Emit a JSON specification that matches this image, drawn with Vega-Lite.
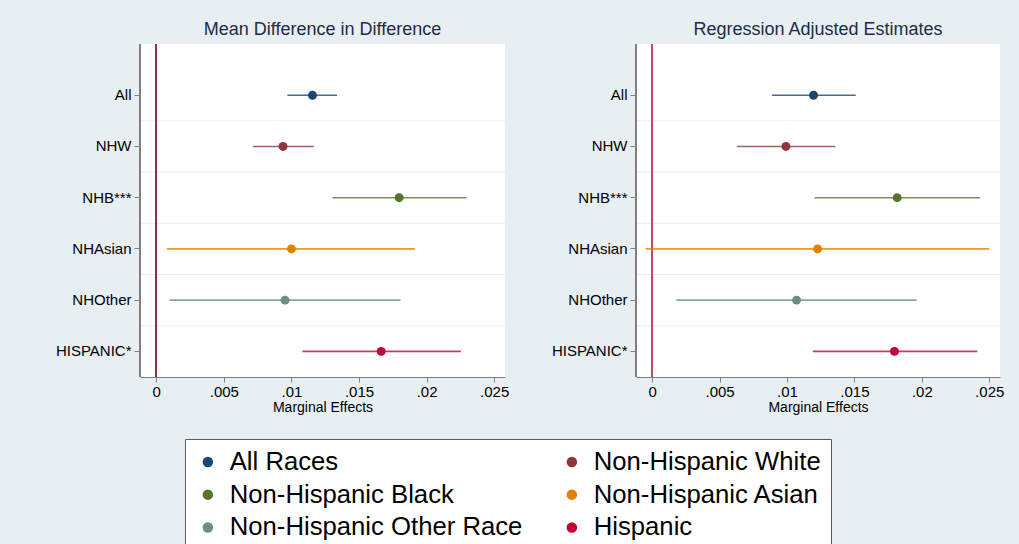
{
  "$schema": "https://vega.github.io/schema/vega-lite/v6.json",
  "background": "#E7EFF2",
  "padding": {"left": 55, "top": 21, "right": 16, "bottom": 0},
  "spacing": 42,
  "datasets": {
    "coef": [
      {"panel": "Mean Difference in Difference", "label": "All", "race": "All Races", "est": 0.01156, "lo": 0.0097, "hi": 0.01338},
      {"panel": "Mean Difference in Difference", "label": "NHW", "race": "Non-Hispanic White", "est": 0.00938, "lo": 0.00716, "hi": 0.01165},
      {"panel": "Mean Difference in Difference", "label": "NHB***", "race": "Non-Hispanic Black", "est": 0.01797, "lo": 0.01304, "hi": 0.02296},
      {"panel": "Mean Difference in Difference", "label": "NHAsian", "race": "Non-Hispanic Asian", "est": 0.0100, "lo": 0.00079, "hi": 0.01913},
      {"panel": "Mean Difference in Difference", "label": "NHOther", "race": "Non-Hispanic Other Race", "est": 0.00953, "lo": 0.00099, "hi": 0.01807},
      {"panel": "Mean Difference in Difference", "label": "HISPANIC*", "race": "Hispanic", "est": 0.01664, "lo": 0.01081, "hi": 0.02254},
      {"panel": "Regression Adjusted Estimates", "label": "All", "race": "All Races", "est": 0.01197, "lo": 0.00888, "hi": 0.0151},
      {"panel": "Regression Adjusted Estimates", "label": "NHW", "race": "Non-Hispanic White", "est": 0.00992, "lo": 0.00629, "hi": 0.01358},
      {"panel": "Regression Adjusted Estimates", "label": "NHB***", "race": "Non-Hispanic Black", "est": 0.01817, "lo": 0.01204, "hi": 0.02431},
      {"panel": "Regression Adjusted Estimates", "label": "NHAsian", "race": "Non-Hispanic Asian", "est": 0.01227, "lo": -0.00049, "hi": 0.025},
      {"panel": "Regression Adjusted Estimates", "label": "NHOther", "race": "Non-Hispanic Other Race", "est": 0.01071, "lo": 0.00178, "hi": 0.01962},
      {"panel": "Regression Adjusted Estimates", "label": "HISPANIC*", "race": "Hispanic", "est": 0.01797, "lo": 0.01192, "hi": 0.02411}
    ]
  },
  "config": {
    "font": "Liberation Sans",
    "view": {"fill": "white", "stroke": null},
    "title": {"fontSize": 18, "font": "Liberation Sans", "fontWeight": "normal", "color": "#1E2B47", "offset": 0, "anchor": "middle"},
    "axis": {"labelFont": "Liberation Sans", "titleFont": "Liberation Sans", "labelColor": "#000000", "titleColor": "#000000"}
  },
  "hconcat": [
    {
      "width": 365,
      "height": 333,
      "title": "Mean Difference in Difference",
      "data": {"name": "coef"},
      "transform": [{"filter": "datum.panel === 'Mean Difference in Difference'"}],
      "layer": [
        {
          "transform": [{"filter": "datum.label !== 'All'"}],
          "mark": {"type": "rule", "color": "#E6EDF1", "strokeWidth": 1},
          "encoding": {
            "y": {"field": "label", "type": "nominal", "bandPosition": 0,
                  "scale": {"type": "band", "domain": ["All", "NHW", "NHB***", "NHAsian", "NHOther", "HISPANIC*"], "range": [25.6, 333], "paddingInner": 0, "paddingOuter": 0},
                  "axis": {"title": null, "grid": false, "domain": false, "ticks": true, "tickSize": 6, "tickColor": "#7F7F7F", "labelPadding": 3, "labelFontSize": 15}}
          }
        },
        {
          "mark": {"type": "rule", "color": "#8E3048", "strokeWidth": 1.5},
          "encoding": {
            "x": {"datum": 0, "type": "quantitative",
                  "scale": {"domain": [-0.0012, 0.0258], "nice": false, "zero": false},
                  "axis": {"title": "Marginal Effects", "values": [0, 0.005, 0.01, 0.015, 0.02, 0.025], "labelExpr": "datum.value == 0 ? '0' : replace(toString(datum.value), '0.', '.')", "grid": false, "domainColor": "#7F7F7F", "tickColor": "#7F7F7F", "tickSize": 5, "labelPadding": 2, "labelFontSize": 15, "titleFontSize": 14, "titleFontWeight": "normal", "titlePadding": 1}}
          }
        },
        {
          "mark": {"type": "rule", "color": "#7F7F7F", "strokeWidth": 1},
          "encoding": {
            "x": {"datum": -0.0012, "type": "quantitative"}
          }
        },
        {
          "mark": {"type": "rule", "strokeWidth": 1.6, "strokeOpacity": 0.8},
          "encoding": {
            "y": {"field": "label", "type": "nominal"},
            "x": {"field": "lo", "type": "quantitative"},
            "x2": {"field": "hi"},
            "color": {"field": "race", "type": "nominal"}
          }
        },
        {
          "mark": {"type": "point", "filled": true, "size": 80, "opacity": 1},
          "encoding": {
            "y": {"field": "label", "type": "nominal"},
            "x": {"field": "est", "type": "quantitative"},
            "color": {
              "field": "race", "type": "nominal",
              "scale": {
                "domain": ["All Races", "Non-Hispanic White", "Non-Hispanic Black", "Non-Hispanic Asian", "Non-Hispanic Other Race", "Hispanic"],
                "range": ["#1A476F", "#90353B", "#55752F", "#E37E00", "#6E8E84", "#C10534"]
              },
              "legend": {
                "orient": "none", "direction": "horizontal", "legendX": 45, "legendY": 395, "columns": 2, "title": null,
                "labelFont": "Liberation Sans", "labelFontSize": 25.7, "labelColor": "#000000", "labelLimit": 500,
                "labelOffset": 9, "symbolType": "circle", "symbolSize": 110, "symbolStrokeWidth": 0, "symbolOpacity": 1,
                "fillColor": "#FFFFFF", "strokeColor": "#5A5A5A", "padding": 10, "rowPadding": 5.8, "columnPadding": 36
              }
            }
          }
        }
      ]
    },
    {
      "width": 364,
      "height": 333,
      "title": "Regression Adjusted Estimates",
      "data": {"name": "coef"},
      "transform": [{"filter": "datum.panel === 'Regression Adjusted Estimates'"}],
      "layer": [
        {
          "transform": [{"filter": "datum.label !== 'All'"}],
          "mark": {"type": "rule", "color": "#E6EDF1", "strokeWidth": 1},
          "encoding": {
            "y": {"field": "label", "type": "nominal", "bandPosition": 0,
                  "scale": {"type": "band", "domain": ["All", "NHW", "NHB***", "NHAsian", "NHOther", "HISPANIC*"], "range": [25.6, 333], "paddingInner": 0, "paddingOuter": 0},
                  "axis": {"title": null, "grid": false, "domain": false, "ticks": true, "tickSize": 6, "tickColor": "#7F7F7F", "labelPadding": 3, "labelFontSize": 15}}
          }
        },
        {
          "mark": {"type": "rule", "color": "#C24A66", "strokeWidth": 1.5},
          "encoding": {
            "x": {"datum": 0, "type": "quantitative",
                  "scale": {"domain": [-0.0012, 0.0258], "nice": false, "zero": false},
                  "axis": {"title": "Marginal Effects", "values": [0, 0.005, 0.01, 0.015, 0.02, 0.025], "labelExpr": "datum.value == 0 ? '0' : replace(toString(datum.value), '0.', '.')", "grid": false, "domainColor": "#7F7F7F", "tickColor": "#7F7F7F", "tickSize": 5, "labelPadding": 2, "labelFontSize": 15, "titleFontSize": 14, "titleFontWeight": "normal", "titlePadding": 1}}
          }
        },
        {
          "mark": {"type": "rule", "color": "#7F7F7F", "strokeWidth": 1},
          "encoding": {
            "x": {"datum": -0.0012, "type": "quantitative"}
          }
        },
        {
          "mark": {"type": "rule", "strokeWidth": 1.6, "strokeOpacity": 0.8},
          "encoding": {
            "y": {"field": "label", "type": "nominal"},
            "x": {"field": "lo", "type": "quantitative"},
            "x2": {"field": "hi"},
            "color": {"field": "race", "type": "nominal"}
          }
        },
        {
          "mark": {"type": "point", "filled": true, "size": 80, "opacity": 1},
          "encoding": {
            "y": {"field": "label", "type": "nominal"},
            "x": {"field": "est", "type": "quantitative"},
            "color": {"field": "race", "type": "nominal"}
          }
        }
      ]
    }
  ]
}
